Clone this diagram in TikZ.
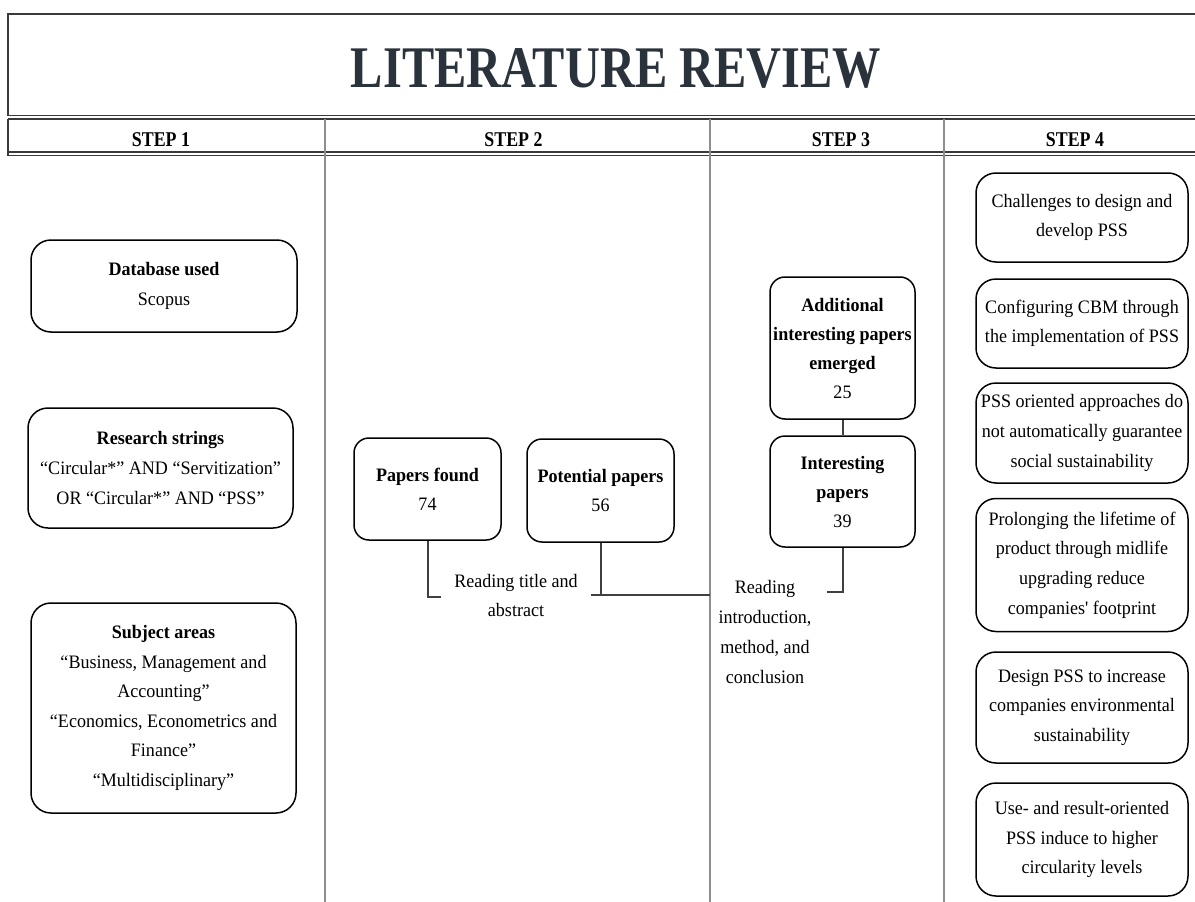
\documentclass[tikz,border=0pt]{standalone}
\usepackage{fontspec}
\setmainfont{Liberation Serif}[FakeStretch=0.95]
\newfontfamily\titlefont{Liberation Serif}[FakeStretch=0.82]
\newfontfamily\headfont{Liberation Serif}[FakeStretch=0.85]
\newcommand{\plainquote}{{\addfontfeature{Ligatures=TeXOff}'}}
\definecolor{titleink}{HTML}{2A323C}
\definecolor{ruleink}{HTML}{3A3A3A}
\definecolor{colrule}{HTML}{8E8E8E}
\definecolor{linkink}{HTML}{404040}

\begin{document}
\begin{tikzpicture}[x=1pt,y=-1pt,
  card/.style={draw=black, line width=1.5pt, rounded corners=20pt, align=center,
    inner sep=0pt, font=\fontsize{19}{29.6}\selectfont},
  widecard/.style={card},
  countcard/.style={card, rounded corners=15pt, font=\fontsize{19}{29}\selectfont},
  resultcard/.style={card, minimum width=212pt},
  steplabel/.style={font=\headfont\bfseries\fontsize{21}{21}\selectfont, anchor=base, inner sep=0pt},
  note/.style={align=center, inner sep=0pt, font=\fontsize{19}{29}\selectfont},
  link/.style={draw=linkink, line width=2pt},
  frame/.style={draw=ruleink, line width=1.6pt},
  divider/.style={draw=colrule, line width=1.5pt}]
\useasboundingbox (0,0) rectangle (1195,902);

% title frame and step header
\draw[frame, line width=2.2pt] (8,115.5) -- (8,14) -- (1196,14);
\draw[frame] (8,115.5) -- (1196,115.5);
\draw[frame] (8,119) -- (1196,119);
\draw[frame] (8,152) -- (1196,152);
\draw[frame] (8,155.5) -- (1196,155.5);
\draw[frame] (8,119) -- (8,155.5);

% column dividers
\foreach \cx in {325,710,944}
  \draw[divider] (\cx,119) -- (\cx,902);

\node[font=\titlefont\bfseries\fontsize{59}{59}\selectfont, text=titleink,
      anchor=base, inner sep=0pt] (title) at (616,87) {LITERATURE REVIEW};

\node[steplabel] (h1) at (161,146) {STEP 1};
\node[steplabel] (h2) at (513.5,146) {STEP 2};
\node[steplabel] (h3) at (841,146) {STEP 3};
\node[steplabel] (h4) at (1075,146) {STEP 4};

% step 1: search set-up
\node[widecard, minimum width=266pt, minimum height=92pt] (db) at (164,286)
  {\textbf{Database used}\\Scopus};
\node[widecard, minimum width=265pt, minimum height=120pt] (rs) at (160.5,468)
  {\textbf{Research strings}\\“Circular*” AND “Servitization”\\OR “Circular*” AND “PSS”};
\node[widecard, minimum width=265pt, minimum height=210pt] (sa) at (163.5,708)
  {\textbf{Subject areas}\\“Business, Management and\\Accounting”\\“Economics, Econometrics and\\Finance”\\“Multidisciplinary”};

% step 2: screening
\node[countcard, minimum width=147pt, minimum height=102pt] (pf) at (427.5,489)
  {\textbf{Papers found}\\74};
\node[countcard, minimum width=147pt, minimum height=103pt] (pp) at (600.5,490.5)
  {\textbf{Potential papers}\\56};

% step 3: full reading
\node[countcard, minimum width=145pt, minimum height=142pt] (add) at (842.5,348)
  {\textbf{Additional}\\\textbf{interesting papers}\\\textbf{emerged}\\25};
\node[countcard, minimum width=145pt, minimum height=111pt] (int) at (842.5,491.5)
  {\textbf{Interesting}\\\textbf{papers}\\39};

% step 4: findings
\node[resultcard, minimum height=89pt] (r1) at (1082,217.5)
  {Challenges to design and\\develop PSS};
\node[resultcard, minimum height=89pt] (r2) at (1082,323.5)
  {Configuring CBM through\\the implementation of PSS};
\node[resultcard, minimum height=100pt] (r3) at (1082,433)
  {PSS oriented approaches do\\not automatically guarantee\\social sustainability};
\node[resultcard, minimum height=133pt] (r4) at (1082,565)
  {Prolonging the lifetime of\\product through midlife\\upgrading reduce\\companies\plainquote{} footprint};
\node[resultcard, minimum height=111pt] (r5) at (1082,707.5)
  {Design PSS to increase\\companies environmental\\sustainability};
\node[resultcard, minimum height=113pt] (r6) at (1082,839.5)
  {Use- and result-oriented\\PSS induce to higher\\circularity levels};

% screening brackets and their notes
\coordinate (pfend) at (441,597);
\draw[link] (pf.south) |- (pfend);
\coordinate (ppknee) at (600.5,595);
\coordinate (ppleft) at (591,595);
\coordinate (ppright) at (710,595);
\draw[link] (pp.south) -- (ppknee);
\draw[link, line width=1.6pt] (ppleft) -- (ppright);
\node[note] (readA) at (516,595) {Reading title and\\abstract};

\draw[link] (add.south) -- (int.north);
\coordinate (intend) at (827,592);
\draw[link] (int.south) |- (intend);
\node[note, font=\fontsize{19}{30}\selectfont] (readB) at (765,632)
  {Reading\\introduction,\\method, and\\conclusion};
\end{tikzpicture}
\end{document}
